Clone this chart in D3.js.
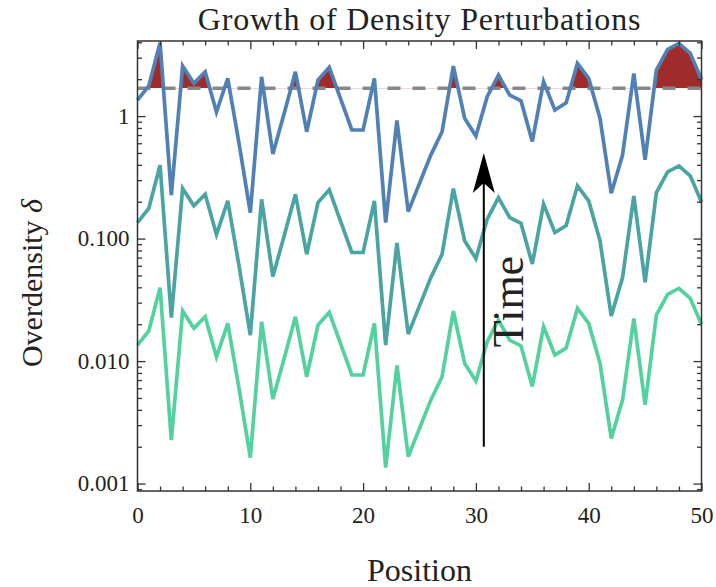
<!DOCTYPE html>
<html>
<head>
<meta charset="utf-8">
<script src="https://cdn.jsdelivr.net/npm/d3@7"></script>
<style>
  body { margin: 0; background: #fff; }
  svg text { font-family: "Liberation Serif", "DejaVu Serif", serif !important; fill: #222; }
</style>
</head>
<body>
<script>
const width = 716;
const height = 587;
const margin = { top: 41, right: 14.5, bottom: 96, left: 137.5 };
const serif = "'Liberation Serif', 'DejaVu Serif', serif";

// grid positions 0..50
const positions = d3.range(0, 51);

// overdensity at three times (early -> late)
const deltaEarly = [0.0135, 0.0176, 0.0397, 0.00226, 0.0256, 0.0185, 0.0230, 0.0108, 0.0203, 0.0060,
  0.00163, 0.0209, 0.0049, 0.0105, 0.0230, 0.00745, 0.0197, 0.0250, 0.0139, 0.0077,
  0.0077, 0.0203, 0.00135, 0.0092, 0.00166, 0.00282, 0.0048, 0.00745, 0.0256, 0.0096,
  0.00687, 0.0144, 0.0216, 0.0148, 0.0133, 0.0062, 0.0191, 0.0112, 0.0128, 0.0269,
  0.0203, 0.0096, 0.00234, 0.0048, 0.0223, 0.0044, 0.0237, 0.0350, 0.0392, 0.0325, 0.0199];
const deltaMid = [0.135, 0.176, 0.397, 0.0226, 0.256, 0.185, 0.230, 0.108, 0.203, 0.060,
  0.0163, 0.209, 0.049, 0.105, 0.230, 0.0745, 0.197, 0.250, 0.139, 0.077,
  0.077, 0.203, 0.0135, 0.092, 0.0166, 0.0282, 0.048, 0.0745, 0.256, 0.096,
  0.0687, 0.144, 0.216, 0.148, 0.133, 0.062, 0.191, 0.112, 0.128, 0.269,
  0.203, 0.096, 0.0234, 0.048, 0.223, 0.044, 0.237, 0.350, 0.392, 0.325, 0.199];
const deltaLate = [1.35, 1.76, 3.97, 0.226, 2.56, 1.85, 2.30, 1.08, 2.03, 0.60,
  0.163, 2.09, 0.49, 1.05, 2.30, 0.745, 1.97, 2.50, 1.39, 0.77,
  0.77, 2.03, 0.135, 0.92, 0.166, 0.282, 0.48, 0.745, 2.56, 0.96,
  0.687, 1.44, 2.16, 1.48, 1.33, 0.62, 1.91, 1.12, 1.28, 2.69,
  2.03, 0.96, 0.234, 0.48, 2.23, 0.44, 2.37, 3.50, 3.92, 3.25, 1.99];

const seriesColors = ["#53d2a0", "#4aa4a1", "#5181b4"];
const deltaCrit = 1.686;

const xTicks = [0, 10, 20, 30, 40, 50];
const yTicks = [0.001, 0.01, 0.1, 1];
const yTickLabels = ["0.001", "0.010", "0.100", "1"];

// time arrow
const arrowX = 30.7;
const arrowFrom = 0.002;
const arrowTo = 0.5;

const svg = d3.select("body").append("svg")
    .attr("width", width)
    .attr("height", height)
    .attr("font-family", serif);

const x = d3.scaleLinear().domain([0, 50]).range([margin.left, width - margin.right]);
const y = d3.scaleLog().domain([0.00087, 4.1]).range([height - margin.bottom, margin.top]);

const xMinor = d3.range(0, 51, 2).filter(v => v % 10 !== 0);
const yMinor = [];
[0.0001, 0.001, 0.01, 0.1, 1].forEach(d => {
    for (let k = 2; k <= 9; k++) {
        const v = d * k;
        if (v > y.domain()[0] && v < y.domain()[1]) yMinor.push(v);
    }
});

// red fill above the collapse threshold
svg.append("clipPath").attr("id", "above")
    .append("rect")
    .attr("x", margin.left)
    .attr("y", margin.top)
    .attr("width", x(50) - x(0))
    .attr("height", y(deltaCrit) - margin.top);

const area = d3.area()
    .x((d, i) => x(positions[i]))
    .y0(y(deltaCrit))
    .y1(d => y(d));

svg.append("path")
    .datum(deltaLate)
    .attr("clip-path", "url(#above)")
    .attr("d", area)
    .attr("fill", "#a02b2b");

// threshold
svg.append("line")
    .attr("x1", x(0)).attr("x2", x(50))
    .attr("y1", y(deltaCrit)).attr("y2", y(deltaCrit))
    .attr("stroke", "#888")
    .attr("stroke-width", 3.5)
    .attr("stroke-dasharray", "13,12");

// density lines
const line = d3.line()
    .x((d, i) => x(positions[i]))
    .y(d => y(d));

[deltaEarly, deltaMid, deltaLate].forEach((s, k) => {
    svg.append("path")
        .datum(s)
        .attr("d", line)
        .attr("fill", "none")
        .attr("stroke", seriesColors[k])
        .attr("stroke-width", 3.7)
        .attr("stroke-linejoin", "miter");
});

// arrow
const ax = x(arrowX);
const tipY = y(arrowTo);
svg.append("line")
    .attr("x1", ax).attr("x2", ax)
    .attr("y1", y(arrowFrom)).attr("y2", tipY + 30)
    .attr("stroke", "#000")
    .attr("stroke-width", 2);
svg.append("path")
    .attr("d", `M${ax},${tipY} L${ax - 11},${tipY + 40} L${ax},${tipY + 30} L${ax + 11},${tipY + 40} Z`)
    .attr("fill", "#000");

svg.append("text")
    .attr("transform", `translate(523,301.5) rotate(-90)`)
    .attr("text-anchor", "middle")
    .style("font-size", "44px")
    .text("Time");

// axes, ticks inward on all sides
function styleAxis(g) {
    g.attr("font-family", serif);
    g.select(".domain").remove();
    g.selectAll(".tick line").attr("stroke", "#333").attr("stroke-width", 1.3);
    g.selectAll("text").style("font-size", "23px").attr("fill", "#222");
}

const bottomY = height - margin.bottom;
const rightX = width - margin.right;

svg.append("g").attr("transform", `translate(0,${bottomY})`)
    .call(d3.axisBottom(x).tickValues(xTicks).tickSize(-8).tickPadding(16).tickFormat(d3.format("d")))
    .call(styleAxis);
svg.append("g").attr("transform", `translate(0,${bottomY})`)
    .call(d3.axisBottom(x).tickValues(xMinor).tickSize(-4.5).tickFormat(""))
    .call(styleAxis);
svg.append("g").attr("transform", `translate(0,${margin.top})`)
    .call(d3.axisTop(x).tickValues(xTicks).tickSize(-8).tickFormat(""))
    .call(styleAxis);
svg.append("g").attr("transform", `translate(0,${margin.top})`)
    .call(d3.axisTop(x).tickValues(xMinor).tickSize(-4.5).tickFormat(""))
    .call(styleAxis);

svg.append("g").attr("transform", `translate(${margin.left},0)`)
    .call(d3.axisLeft(y).tickValues(yTicks).tickSize(-8).tickPadding(8)
        .tickFormat((d, i) => yTickLabels[i]))
    .call(styleAxis);
svg.append("g").attr("transform", `translate(${margin.left},0)`)
    .call(d3.axisLeft(y).tickValues(yMinor).tickSize(-4.5).tickFormat(""))
    .call(styleAxis);
svg.append("g").attr("transform", `translate(${rightX},0)`)
    .call(d3.axisRight(y).tickValues(yTicks).tickSize(-8).tickFormat(""))
    .call(styleAxis);
svg.append("g").attr("transform", `translate(${rightX},0)`)
    .call(d3.axisRight(y).tickValues(yMinor).tickSize(-4.5).tickFormat(""))
    .call(styleAxis);

// frame
svg.append("rect")
    .attr("x", margin.left).attr("y", margin.top)
    .attr("width", rightX - margin.left)
    .attr("height", bottomY - margin.top)
    .attr("fill", "none")
    .attr("stroke", "#333")
    .attr("stroke-width", 1.5);

// titles
svg.append("text")
    .attr("x", (margin.left + rightX) / 2)
    .attr("y", 30)
    .attr("text-anchor", "middle")
    .style("font-size", "32px")
    .style("letter-spacing", "0.8px")
    .text("Growth of Density Perturbations");

svg.append("text")
    .attr("x", (margin.left + rightX) / 2)
    .attr("y", 581)
    .attr("text-anchor", "middle")
    .style("font-size", "32px")
    .text("Position");

const ylab = svg.append("text")
    .attr("transform", "translate(42,283) rotate(-90)")
    .attr("text-anchor", "middle")
    .style("font-size", "30px");
ylab.append("tspan").text("Overdensity ");
ylab.append("tspan").style("font-style", "italic").text("δ");
</script>
</body>
</html>
